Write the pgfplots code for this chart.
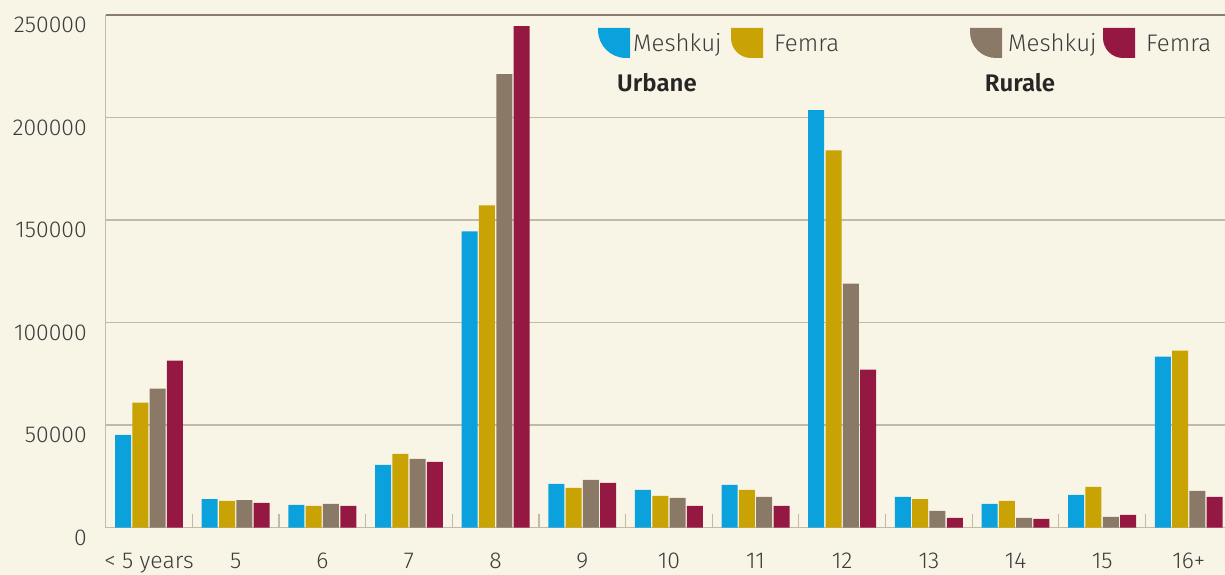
\documentclass[border=0pt]{standalone}
\usepackage{fontspec}
\setmainfont{Fira Sans Light}[BoldFont={Fira Sans SemiBold}]
\usepackage{pgfplots}
\pgfplotsset{compat=1.18}
\definecolor{bg}{HTML}{F9F5E6}
\definecolor{cblue}{HTML}{0BA1DD}
\definecolor{cgold}{HTML}{C9A203}
\definecolor{ctaupe}{HTML}{8A7967}
\definecolor{ccrim}{HTML}{951842}
\definecolor{gridc}{HTML}{C3B9A9}
\definecolor{topc}{HTML}{8C7C6B}
\definecolor{txt}{HTML}{3C3C3C}
\newcommand{\bigf}{\fontsize{24}{28}\selectfont}
\newcommand{\tickf}{\fontsize{23}{27}\selectfont}
\newcommand{\legicon}[3]{\fill[#2] (#1,547) -- (#1,517+#3) arc[start angle=180,end angle=270,radius=#3] -- (#1+32,517) -- (#1+32,547) -- cycle;}
\begin{document}
\begin{tikzpicture}[x=1pt,y=1pt]
\fill[bg] (0,0) rectangle (1225,575);
\useasboundingbox (0,0) rectangle (1225,575);
\begin{axis}[
  at={(105.7pt,47.5pt)}, anchor=south west,
  scale only axis, width=1119.3pt, height=512.5pt,
  xmin=-0.5, xmax=12.418, ymin=0, ymax=250000,
  ybar=1.3pt, bar width=16pt,
  axis lines*=left,
  x axis line style={draw=gridc, line width=1.5pt},
  y axis line style={draw=gridc, line width=1.2pt},
  ytick={0,50000,100000,150000,200000},
  yticklabels={0,50000,100000,150000,200000},
  extra y ticks={250000},
  extra y tick labels={250000},
  extra y tick style={grid style={draw=topc, line width=1.5pt}},
  ymajorgrids, grid style={draw=gridc, line width=1.5pt},
  scaled y ticks=false,
  yticklabel style={anchor=base east, inner sep=0pt, xshift=-18.7pt, yshift=-18pt, font=\tickf, text=txt},
  xtick={0,...,12},
  xticklabels={{< 5 years},5,6,7,8,9,10,11,12,13,14,15,16+},
  xticklabel style={anchor=base, inner sep=0pt, yshift=-41pt, font=\tickf, text=txt},
  minor xtick={-0.5,0.5,...,11.5},
  tick align=inside,
  major tick length=0pt,
  minor tick length=13pt,
  minor tick style={draw=gridc, line width=1.2pt},
]
\addplot[fill=cblue, draw=none] coordinates {(0,45200) (1,13900) (2,11000) (3,30550) (4,144400) (5,21260) (6,18300) (7,20800) (8,203600) (9,14900) (10,11500) (11,15900) (12,83300)};
\addplot[fill=cgold, draw=none] coordinates {(0,60900) (1,12950) (2,10500) (3,35900) (4,157150) (5,19300) (6,15400) (7,18300) (8,184000) (9,13900) (10,12950) (11,19800) (12,86300)};
\addplot[fill=ctaupe, draw=none] coordinates {(0,67700) (1,13400) (2,11500) (3,33500) (4,221200) (5,23200) (6,14400) (7,14900) (8,119000) (9,8070) (10,4640) (11,5130) (12,17840)};
\addplot[fill=ccrim, draw=none] coordinates {(0,81400) (1,12000) (2,10500) (3,32000) (4,244600) (5,21750) (6,10500) (7,10500) (8,77000) (9,4640) (10,4150) (11,6100) (12,14900)};
\end{axis}
\legicon{598}{cblue}{28}
\legicon{731}{cgold}{20}
\legicon{970}{ctaupe}{26}
\legicon{1103}{ccrim}{20}
\begin{scope}[every node/.style={inner sep=0pt, font=\bigf, text=txt}]
\node[anchor=base west] at (633,523.3) {Meshkuj};
\node[anchor=base west] at (774,523.3) {Femra};
\node[anchor=base west] at (1008,523.3) {Meshkuj};
\node[anchor=base west] at (1146,523.3) {Femra};
\node[anchor=base, font=\bigf\bfseries, text=black!85] at (657,483.3) {Urbane};
\node[anchor=base, font=\bigf\bfseries, text=black!85] at (1020,483.3) {Rurale};
\end{scope}
\end{tikzpicture}
\end{document}
